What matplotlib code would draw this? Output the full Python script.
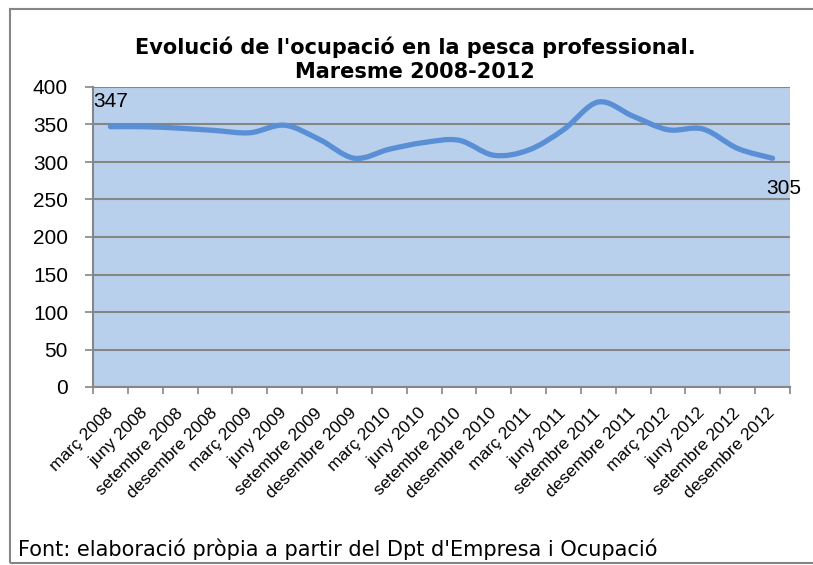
import numpy as np
import matplotlib
matplotlib.use("Agg")
import matplotlib.pyplot as plt
from matplotlib.path import Path
from matplotlib.patches import PathPatch, Rectangle

# data
months = ["març", "juny", "setembre", "desembre"]
years = [2008, 2009, 2010, 2011, 2012]
labels = [f"{m} {y}" for y in years for m in months]
values = [347, 347, 345, 342, 339, 349, 330, 305, 317, 326,
          329, 309, 316, 343, 380, 361, 343, 344, 318, 305]

title = "Evolució de l'ocupació en la pesca professional.\nMaresme 2008-2012"
source = "Font: elaboració pròpia a partir del Dpt d'Empresa i Ocupació"

GRID = "#868686"
FILL = "#B9D0EC"
LINE = "#5A8FD6"


def smooth_path(x, y):
    """Excel-like smoothed line as a cubic bezier path"""
    pts = np.column_stack([x, y]).astype(float)
    n = len(pts)
    verts = [pts[0]]
    codes = [Path.MOVETO]
    for i in range(n - 1):
        p0 = pts[i - 1] if i > 0 else pts[i]
        p1 = pts[i]
        p2 = pts[i + 1]
        p3 = pts[i + 2] if i + 2 < n else pts[i + 1]
        c1 = p1 + (p2 - p0) / 6.0
        c2 = p2 - (p3 - p1) / 6.0
        verts += [c1, c2, p2]
        codes += [Path.CURVE4] * 3
    return Path(verts, codes)


fig = plt.figure(figsize=(8.13, 5.65), dpi=100)
fig.patch.set_facecolor("white")

# outer chart frame (right side runs off the picture)
fig.patches.append(Rectangle((10 / 813, 2 / 565), 1.2, 1 - 11 / 565,
                             transform=fig.transFigure, fill=False,
                             edgecolor=GRID, linewidth=1.5))

ax = fig.add_axes([93 / 813, 1 - 387 / 565, (790 - 93) / 813, (387 - 87) / 565])
ax.set_facecolor(FILL)

x = np.arange(len(values))
ax.add_patch(PathPatch(smooth_path(x, values), fill=False, edgecolor=LINE,
                       linewidth=3.8, capstyle="round", joinstyle="round", zorder=3))

ax.set_xlim(-0.5, len(values) - 0.5)
ax.set_ylim(0, 400)
ax.set_yticks(np.arange(0, 401, 50))
ax.yaxis.grid(True, color=GRID, linewidth=1.5)
ax.set_axisbelow(True)

for s in ["top", "right"]:
    ax.spines[s].set_visible(False)
for s in ["left", "bottom"]:
    ax.spines[s].set_color(GRID)
    ax.spines[s].set_linewidth(1.5)

ax.tick_params(axis="y", direction="out", length=6, width=1.2, color=GRID,
               labelsize=15, pad=12)
for t in ax.get_yticklabels():
    t.set_fontfamily("Liberation Sans")

ax.set_xticks(x)
ax.set_xticklabels(labels, rotation=45, ha="right", va="center", rotation_mode="anchor",
                   fontsize=12.5, fontfamily="Liberation Sans")
ax.tick_params(axis="x", which="major", length=0, pad=17)
ax.set_xticks(np.arange(-0.5, len(values), 1), minor=True)
ax.tick_params(axis="x", which="minor", direction="out", length=5, width=1.2, color=GRID)

# data labels on first and last point
ax.annotate(str(values[0]), (x[0], values[0]), xytext=(0, 11), textcoords="offset points",
            ha="center", va="bottom", fontsize=15, fontfamily="Liberation Sans")
ax.annotate(str(values[-1]), (x[-1], values[-1]), xytext=(8, -15), textcoords="offset points",
            ha="center", va="top", fontsize=15, fontfamily="Liberation Sans",
            annotation_clip=False)

fig.text(415 / 813, 1 - 59 / 565, title, ha="center", va="center", fontsize=15,
         fontweight="bold", fontfamily="DejaVu Sans", linespacing=1.25)
fig.text(18 / 813, 1 - 549 / 565, source, ha="left", va="center", fontsize=15,
         fontfamily="DejaVu Sans")

fig.savefig("out.png", dpi=100)
